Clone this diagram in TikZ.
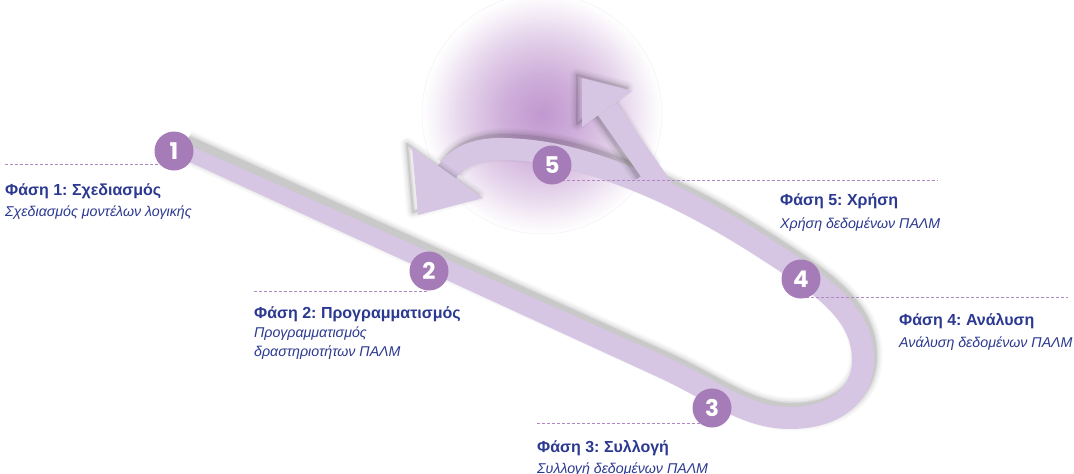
\documentclass[tikz,border=0pt]{standalone}
\usepackage{fontspec}
\setmainfont{Liberation Sans}
\newfontfamily\numfont{Poppins}
\frenchspacing
\definecolor{band}{RGB}{214,198,228}
\definecolor{dot}{RGB}{166,124,184}
\definecolor{dashc}{RGB}{176,136,196}
\definecolor{txt}{RGB}{43,57,144}
\definecolor{glowc}{RGB}{186,140,202}
\pgfdeclareradialshading{glowshade}{\pgfpoint{0bp}{0bp}}{color(0bp)=(glowc!90!white); color(8bp)=(glowc!70!white); color(16bp)=(glowc!40!white); color(22bp)=(glowc!12!white); color(25bp)=(white); color(50bp)=(white)}
\def\straightpoly{(183.1,142.6) -- (664.5,356.0) -- (655.5,376.0) -- (176.9,156.2) -- cycle}
\def\mainpath{(660,366) .. controls (715,391) and (745,418) .. (790,418) .. controls (835,418) and (863,395) .. (863,360) .. controls (863,318) and (830,292) .. (790,265) .. controls (745,235) and (690,200) .. (620,174) .. controls (580,159) and (545,150) .. (505,149) .. controls (480,148) and (458,155) .. (447,172)}
\def\shaftpath{(668,196) -- (607,109)}
\def\lhead{(412,147) -- (483,198) -- (418,215) -- cycle}
\def\uhead{(582,78) -- (632,91) -- (582,127) -- cycle}
\tikzset{
  numc/.style={circle, fill=dot, minimum size=39pt, inner sep=0pt, text=white, font=\numfont\bfseries\fontsize{23}{23}\selectfont},
  head/.style={anchor=base west, inner sep=0pt, text=txt, font=\bfseries\fontsize{16}{18}\selectfont},
  sub/.style={anchor=base west, inner sep=0pt, text=txt, font=\itshape\fontsize{14.2}{16}\selectfont},
  guide/.style={draw=dashc, line width=0.9pt, dash pattern=on 3pt off 2pt},
}
\begin{document}
\begin{tikzpicture}[x=1pt,y=-1pt]
\useasboundingbox[fill=white] (0,0) rectangle (1074,474);
% glow
\shade[shading=glowshade] (542,114) circle (120);
\draw[black!5, line width=0.5pt] (542,114) circle (120);
% shadows of main band
\foreach \w/\o in {2/0.09,5/0.06,9/0.045,13/0.03}{
  \draw[black, opacity=\o, line width={(20+\w)*1pt}, shift={(3,-4)}] (182,150) -- \mainpath;
}
% main band
\fill[band] \straightpoly;
\draw[band, line width=22pt] \mainpath;
% shaft shadow and shaft
\foreach \w/\o in {2/0.09,5/0.06,9/0.045,13/0.03}{
  \draw[black, opacity=\o, line width={(22+\w)*1pt}, shift={(-5,-3)}] (652,175) -- (607,109);
  \draw[black, opacity=\o, line width=\w pt, line join=round, shift={(-5,-3)}] \uhead;
  \draw[black, opacity=\o, line width=\w pt, line join=round, shift={(-5,-3)}] \lhead;
}
\draw[band, line width=22pt] \shaftpath;
\fill[band] \uhead;
\fill[band] \lhead;
% guides
\coordinate (p1) at (174,151);
\coordinate (p2) at (429,271);
\coordinate (p3) at (712,408);
\coordinate (p4) at (801,279);
\coordinate (p5) at (552,165);
\coordinate (e1) at (5,164);
\coordinate (e2) at (254,291);
\coordinate (e3) at (537,423);
\coordinate (e4) at (1068,297);
\coordinate (e5) at (938,180);
\draw[guide] (e1) -- (e1 -| p1);
\draw[guide] (e2) -- (e2 -| p2);
\draw[guide] (e3) -- (e3 -| p3);
\draw[guide] (e4 -| p4) -- (e4);
\draw[guide] (e5 -| p5) -- (e5);
% circles
\node[numc] (n1) at (p1) {1};
\node[numc] (n2) at (p2) {2};
\node[numc] (n3) at (p3) {3};
\node[numc] (n4) at (p4) {4};
\node[numc] (n5) at (p5) {5};
% texts
\node[head] (h1) at (5,195) {Φάση 1: Σχεδιασμός};
\node[sub] (s1) at (5,216) {Σχεδιασμός μοντέλων λογικής};
\node[head] (h2) at (254,318) {Φάση 2: Προγραμματισμός};
\node[sub] (s2a) at (254,337) {Προγραμματισμός};
\node[sub] (s2b) at (254,356) {δραστηριοτήτων ΠΑΛΜ};
\node[head] (h3) at (537,452) {Φάση 3: Συλλογή};
\node[sub] (s3) at (537,473) {Συλλογή δεδομένων ΠΑΛΜ};
\node[head] (h5) at (780,205) {Φάση 5: Χρήση};
\node[sub] (s5) at (780,228) {Χρήση δεδομένων ΠΑΛΜ};
\node[head] (h4) at (899,325) {Φάση 4: Ανάλυση};
\node[sub] (s4) at (899,347) {Ανάλυση δεδομένων ΠΑΛΜ};
\end{tikzpicture}
\end{document}
